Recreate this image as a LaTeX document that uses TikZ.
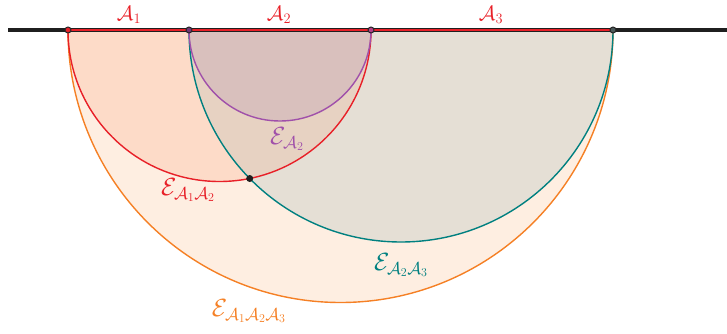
\documentclass[tikz,border=0pt]{standalone}
\usepackage{amsmath}
\definecolor{cOr}{RGB}{245,128,37}
\definecolor{cRd}{RGB}{232,32,40}
\definecolor{cTl}{RGB}{0,128,128}
\definecolor{cPu}{RGB}{160,80,170}
\definecolor{fOr}{RGB}{254,238,225}
\definecolor{fRd}{RGB}{253,219,200}
\definecolor{fTl}{RGB}{229,223,213}
\definecolor{fMx}{RGB}{231,210,194}
\definecolor{fPu}{RGB}{217,192,189}
\begin{document}
\begin{tikzpicture}[x=1pt,y=1pt,
  arcline/.style={line width=1.4pt},
  lblA/.style={inner sep=0pt,font=\fontsize{22}{26}\selectfont},
  lblE/.style={inner sep=0pt,font=\fontsize{25}{30}\selectfont},
  pt/.style={circle,inner sep=0pt,minimum size=6pt,draw=black!85,line width=1pt}]
\useasboundingbox (0,0) rectangle (727,333);
\coordinate (L) at (8,303);
\coordinate (R) at (727,303);
\coordinate (P1) at (68,303);
\coordinate (P2) at (189,303);
\coordinate (P3) at (371,303);
\coordinate (P4) at (613,303);
% fills
\fill[fOr] (P1) arc[start angle=180,end angle=360,radius=272.5] -- cycle;
\fill[fRd] (P1) arc[start angle=180,end angle=360,radius=151.5] -- cycle;
\fill[fTl] (P2) arc[start angle=180,end angle=360,radius=212] -- cycle;
\begin{scope}
  \clip (P1) arc[start angle=180,end angle=360,radius=151.5] -- cycle;
  \fill[fMx] (P2) arc[start angle=180,end angle=360,radius=212] -- cycle;
\end{scope}
\fill[fPu] (P2) arc[start angle=180,end angle=360,radius=91] -- cycle;
% arcs
\draw[arcline,cOr] (P1) arc[start angle=180,end angle=360,radius=272.5];
\draw[arcline,cTl] (P2) arc[start angle=180,end angle=360,radius=212];
\draw[arcline,cRd] (P1) arc[start angle=180,end angle=360,radius=151.5];
\draw[arcline,cPu] (P2) arc[start angle=180,end angle=360,radius=91];
% base line
\draw[line width=3.2pt,black!88] (L) -- (R);
\draw[line width=1.8pt,cRd] (P1) -- (P4);
% points
\node[pt,fill=cRd] (Q1) at (P1) {};
\node[pt,fill=cPu!70!black] (Q2) at (P2) {};
\node[pt,fill=cPu!80!red] (Q3) at (P3) {};
\node[pt,fill=cTl!70!red] (Q4) at (P4) {};
\node[circle,inner sep=0pt,minimum size=7pt,fill=black!88] (X) at (249.7,154.5) {};
% labels
\node[lblA,text=cRd] (lA1) at (129,318) {$\mathcal{A}_1$};
\node[lblA,text=cRd] (lA2) at (279,318) {$\mathcal{A}_2$};
\node[lblA,text=cRd] (lA3) at (491,318) {$\mathcal{A}_3$};
\node[lblE,text=cPu] (lE2) at (287,194) {$\mathcal{E}_{\mathcal{A}_2}$};
\node[lblE,text=cRd] (lE12) at (188,143) {$\mathcal{E}_{\mathcal{A}_1\mathcal{A}_2}$};
\node[lblE,text=cTl] (lE23) at (401,68) {$\mathcal{E}_{\mathcal{A}_2\mathcal{A}_3}$};
\node[lblE,text=cOr] (lE123) at (249,22) {$\mathcal{E}_{\mathcal{A}_1\mathcal{A}_2\mathcal{A}_3}$};
\end{tikzpicture}
\end{document}
